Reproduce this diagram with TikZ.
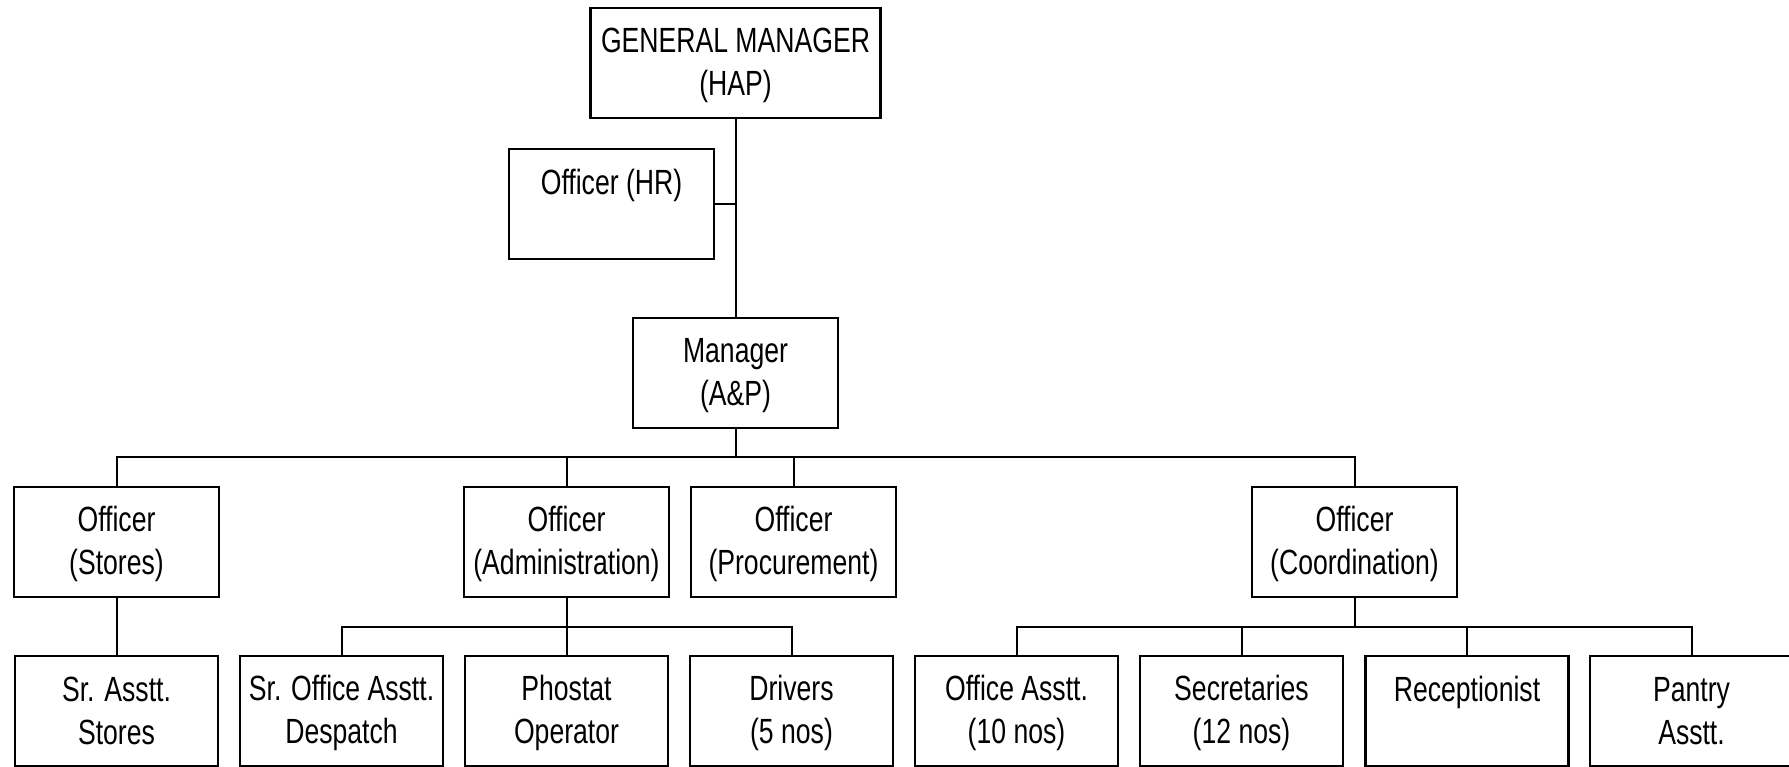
\documentclass[tikz,border=0pt]{standalone}
\usepackage{fontspec}
\setmainfont[FakeStretch=0.76]{Liberation Sans}
\newcommand\ms{\rule[-7pt]{0pt}{37pt}}
\begin{document}
\begin{tikzpicture}[x=1pt,y=-1pt,
  box/.style={draw, line width=2.4pt, inner sep=0pt, align=center,
    minimum width=205pt, minimum height=110pt,
    font=\fontsize{35}{43}\selectfont},
  lbox/.style={box, minimum width=203pt},
  conn/.style={line width=2pt}]
\useasboundingbox (0,0) rectangle (1789,766);
\node[box, minimum width=290pt] (gm) at (735.5,63) {\ms GENERAL MANAGER\\\ms (HAP)};
\node[box] (hr) at (611.5,204) {\ms Officer (HR)\\\ms};
\node[box] (mgr) at (735.5,373) {\ms Manager\\\ms (A\&P)};
\node[box] (stores) at (116.5,542) {\ms Officer\\\ms (Stores)};
\node[box] (admin) at (566.5,542) {\ms Officer\\\ms (Administration)};
\node[box] (proc) at (793.5,542) {\ms Officer\\\ms (Procurement)};
\node[box] (coord) at (1354.5,542) {\ms Officer\\\ms (Coordination)};
\node[lbox] (srst) at (116.5,711) {\ms Sr. Asstt.\\\ms Stores};
\node[lbox] (sroa) at (341.5,711) {\ms Sr. Office Asstt.\\\ms Despatch};
\node[lbox] (phot) at (566.5,711) {\ms Phostat\\\ms Operator};
\node[lbox] (driv) at (791.5,711) {\ms Drivers\\\ms (5 nos)};
\node[lbox] (offa) at (1016.5,711) {\ms Office Asstt.\\\ms (10 nos)};
\node[lbox] (secr) at (1241.5,711) {\ms Secretaries\\\ms (12 nos)};
\node[lbox] (recp) at (1467,711) {\ms Receptionist\\\ms};
\node[lbox] (pant) at (1691.5,711) {\ms Pantry\\\ms Asstt.};
\coordinate (b1) at (735.5,457);
\coordinate (b2) at (566.5,627);
\coordinate (b3) at (1354.5,627);
\draw[conn] (gm.south) -- (mgr.north);
\draw[conn] (hr.east) -- (hr.east -| gm.south);
\draw[conn] (mgr.south) -- (b1);
\draw[conn] (stores.north) |- (b1) -| (coord.north);
\draw[conn] (admin.north) -- (admin.north |- b1);
\draw[conn] (proc.north) -- (proc.north |- b1);
\draw[conn] (stores.south) -- (srst.north);
\draw[conn] (admin.south) -- (b2);
\draw[conn] (sroa.north) |- (b2) -| (driv.north);
\draw[conn] (phot.north) -- (b2);
\draw[conn] (coord.south) -- (b3);
\draw[conn] (offa.north) |- (b3) -| (pant.north);
\draw[conn] (secr.north) -- (secr.north |- b3);
\draw[conn] (recp.north) -- (recp.north |- b3);
\end{tikzpicture}
\end{document}
